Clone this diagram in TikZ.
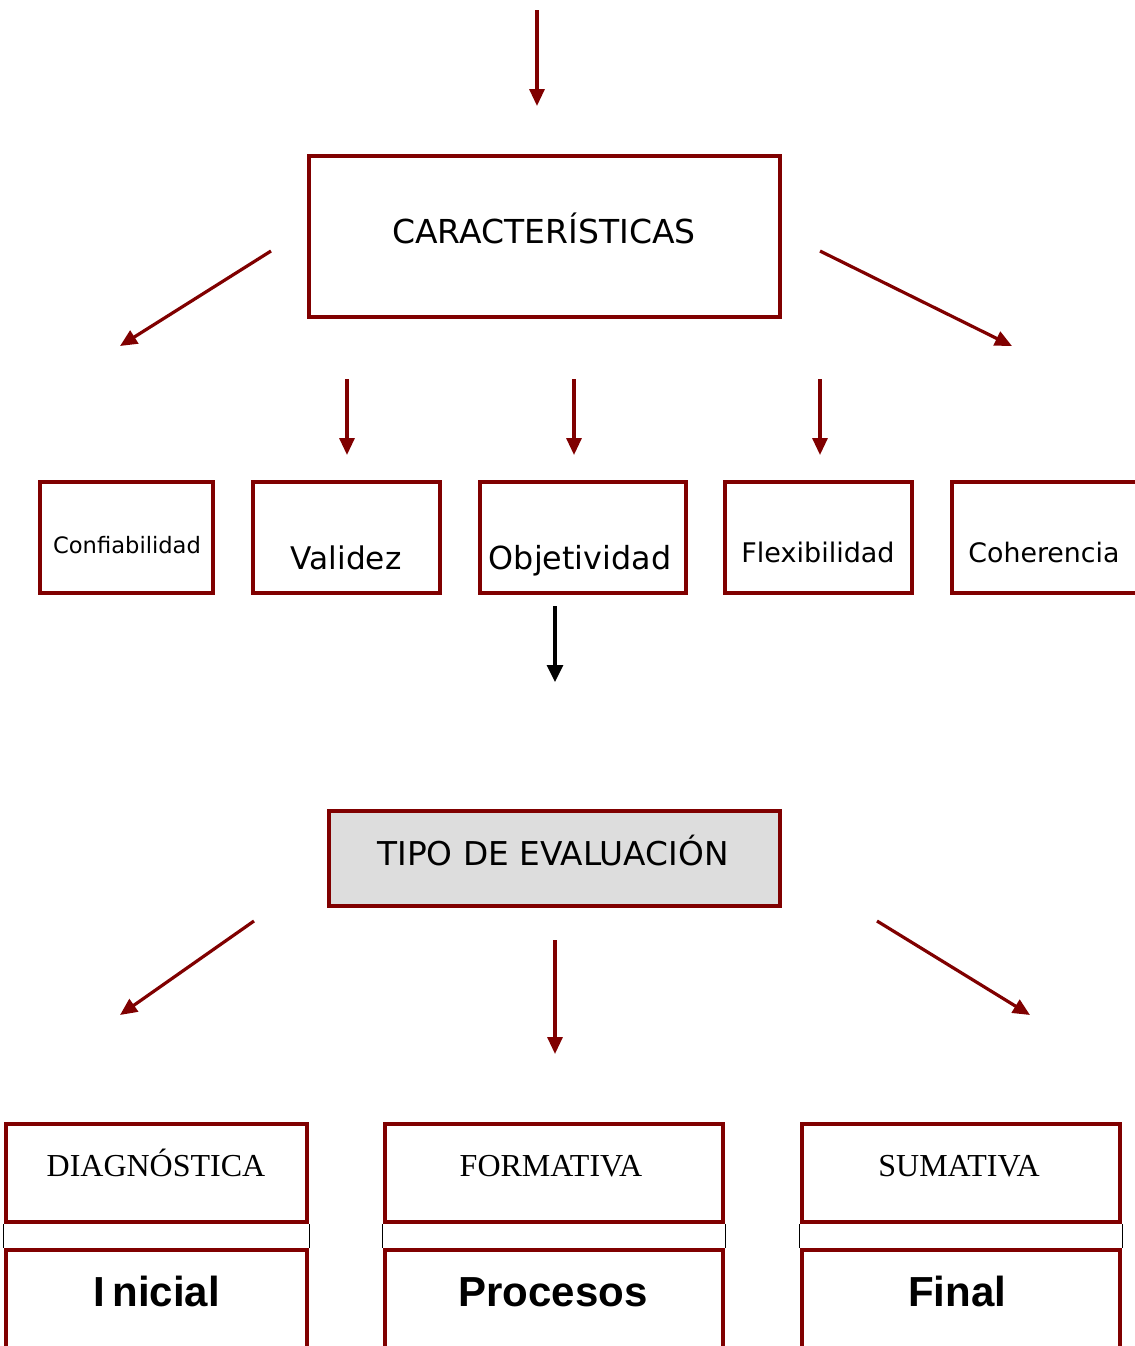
\documentclass[tikz,border=0pt]{standalone}
\usepackage{fontspec}
\usepackage{tikz}
\usetikzlibrary{arrows.meta}
\newfontfamily\vera{DejaVu Sans}
\newfontfamily\romana{Liberation Serif}
\newfontfamily\arialb{Liberation Sans}
\definecolor{rojo}{RGB}{128,0,0}
\tikzset{
  caja/.style={draw=rojo, line width=2.3pt, inner sep=0pt},
  flecha/.style={draw=rojo, line width=1.6pt, -{Triangle[length=8.5pt,width=7.5pt]}},
  flechan/.style={draw=black, line width=1.6pt, -{Triangle[length=8.5pt,width=8pt]}},
  txt/.style={anchor=base, inner sep=0pt},
}

\begin{document}
\begin{tikzpicture}[x=0.5pt, y=-0.5pt]
    \useasboundingbox (0,0) rectangle (1135,1346);
    \clip (0,0) rectangle (1135,1346);
    % cajas
    \node[caja, minimum width=235.5pt, minimum height=80.5pt] (carac) at (544.5,236.5) {};
    \node[caja, minimum width=86.5pt, minimum height=55.5pt] (conf) at (126.5,537.5) {};
    \node[caja, minimum width=93.5pt, minimum height=55.5pt] (val) at (346.5,537.5) {};
    \node[caja, minimum width=103pt, minimum height=55.5pt] (obj) at (583,537.5) {};
    \node[caja, minimum width=93.5pt, minimum height=55.5pt] (flex) at (818.5,537.5) {};
    \node[caja, minimum width=100pt, minimum height=55.5pt] (coh) at (1052,537.5) {};
    \node[caja, fill=gray!27, minimum width=225.5pt, minimum height=47.5pt] (tipo) at (554.5,858.5) {};
    \node[caja, minimum width=150.5pt, minimum height=49pt] (diag) at (156.5,1173) {};
    \node[caja, minimum width=169pt, minimum height=49pt] (form) at (554,1173) {};
    \node[caja, minimum width=159pt, minimum height=49pt] (suma) at (961,1173) {};
    \node[caja, minimum width=150.5pt, minimum height=60pt] (ini) at (156.5,1310) {};
    \node[caja, minimum width=169pt, minimum height=60pt] (proc) at (554,1310) {};
    \node[caja, minimum width=159pt, minimum height=60pt] (fin) at (961,1310) {};
    % textos
    \node[txt, font=\vera\fontsize{16.5}{18}\selectfont] (caracT) at (544,243) {CARACTERÍSTICAS};
    \node[txt, font=\vera\fontsize{11.3}{13}\selectfont] (confT) at (127,553) {Confiabilidad};
    \node[txt, font=\vera\fontsize{15.6}{18}\selectfont] (valT) at (346,569) {Validez};
    \node[txt, font=\vera\fontsize{15.9}{18}\selectfont] (objT) at (580,569) {Objetividad};
    \node[txt, font=\vera\fontsize{13.5}{16}\selectfont] (flexT) at (818,562) {Flexibilidad};
    \node[txt, font=\vera\fontsize{13.4}{16}\selectfont] (cohT) at (1044,562) {Coherencia};
    \node[txt, font=\vera\fontsize{16.4}{18}\selectfont] (tipoT) at (553,865) {TIPO DE EVALUACIÓN};
    \node[txt, font=\romana\fontsize{16}{18}\selectfont] (diagT) at (156,1176) {DIAGNÓSTICA};
    \node[txt, font=\romana\fontsize{16}{18}\selectfont] (formT) at (551,1176) {FORMATIVA};
    \node[txt, font=\romana\fontsize{16}{18}\selectfont] (sumaT) at (959,1176) {SUMATIVA};
    \node[txt, font=\arialb\bfseries\fontsize{21}{24}\selectfont] (iniT) at (157,1306) {I\,nicial};
    \node[txt, font=\arialb\bfseries\fontsize{21}{24}\selectfont] (procT) at (553,1306) {Procesos};
    \node[txt, font=\arialb\bfseries\fontsize{21}{24}\selectfont] (finT) at (957,1306) {Final};
    % uniones finas
    \draw[line width=0.6pt] (diag.south west) -- (ini.north west);
    \draw[line width=0.6pt] (diag.south east) -- (ini.north east);
    \draw[line width=0.6pt] (form.south west) -- (proc.north west);
    \draw[line width=0.6pt] (form.south east) -- (proc.north east);
    \draw[line width=0.6pt] (suma.south west) -- (fin.north west);
    \draw[line width=0.6pt] (suma.south east) -- (fin.north east);
    % flechas
    \coordinate (a0) at (537,10);   \coordinate (b0) at (537,106);
    \coordinate (a1) at (271,251);  \coordinate (b1) at (120,346);
    \coordinate (a2) at (820,251);  \coordinate (b2) at (1012,346);
    \coordinate (a3) at (347,379);  \coordinate (b3) at (347,455);
    \coordinate (a4) at (574,379);  \coordinate (b4) at (574,455);
    \coordinate (a5) at (820,379);  \coordinate (b5) at (820,455);
    \coordinate (a6) at (555,606);  \coordinate (b6) at (555,682);
    \coordinate (a7) at (254,921);  \coordinate (b7) at (120,1015);
    \coordinate (a8) at (555,940);  \coordinate (b8) at (555,1054);
    \coordinate (a9) at (877,921);  \coordinate (b9) at (1030,1015);
    \draw[flecha] (a0) -- (b0);
    \draw[flecha] (a1) -- (b1);
    \draw[flecha] (a2) -- (b2);
    \draw[flecha] (a3) -- (b3);
    \draw[flecha] (a4) -- (b4);
    \draw[flecha] (a5) -- (b5);
    \draw[flechan] (a6) -- (b6);
    \draw[flecha] (a7) -- (b7);
    \draw[flecha] (a8) -- (b8);
    \draw[flecha] (a9) -- (b9);
  \end{tikzpicture}
\end{document}
